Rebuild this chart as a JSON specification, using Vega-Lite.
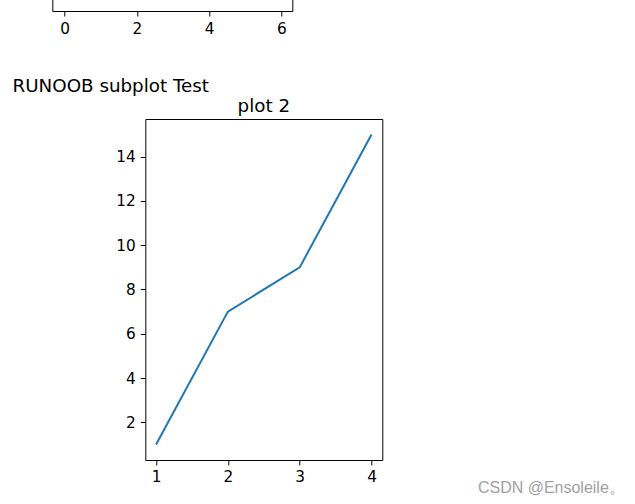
{
  "$schema": "https://vega.github.io/schema/vega-lite/v6.json",
  "padding": {"left": 11.3, "top": -50, "right": 5, "bottom": 5},
  "background": "#ffffff",
  "spacing": 0,
  "config": {
    "font": "DejaVu Sans",
    "view": {"stroke": "#000000", "strokeWidth": 1},
    "axis": {
      "domain": false,
      "grid": false,
      "tickColor": "#000000",
      "tickSize": 5,
      "tickWidth": 1,
      "labelFont": "DejaVu Sans",
      "labelFontSize": 15.3,
      "labelColor": "#000000",
      "labelPadding": 5,
      "titleFont": "DejaVu Sans",
      "titleFontWeight": "normal",
      "titleColor": "#000000"
    }
  },
  "vconcat": [
    {
      "width": 240,
      "height": 60,
      "data": {"values": [{"x": 0}, {"x": 6}]},
      "mark": {"type": "point", "opacity": 0},
      "encoding": {
        "x": {
          "field": "x",
          "type": "quantitative",
          "scale": {"domain": [-0.34, 6.3], "nice": false, "zero": false},
          "axis": {
            "values": [0, 2, 4, 6],
            "format": "d",
            "title": "RUNOOB subplot Test",
            "titleFontSize": 18.3,
            "titleX": -40.3,
            "titleY": 80.7,
            "titleAlign": "left",
            "titleBaseline": "alphabetic"
          }
        }
      }
    },
    {
      "spacing": 0,
      "hconcat": [
        {
          "width": 1,
          "height": 1,
          "view": {"stroke": null},
          "data": {"values": []},
          "mark": {"type": "point", "opacity": 0}
        },
        {
          "width": 237,
          "height": 341,
          "title": {
            "text": "plot 2",
            "frame": "group",
            "anchor": "middle",
            "baseline": "alphabetic",
            "offset": -10.8,
            "fontSize": 18.3,
            "fontWeight": "normal",
            "font": "DejaVu Sans",
            "color": "#000000"
          },
          "data": {
            "values": [
              {"x": 1, "y": 1},
              {"x": 2, "y": 7},
              {"x": 3, "y": 9},
              {"x": 4, "y": 15}
            ]
          },
          "mark": {"type": "line", "color": "#1f77b4", "strokeWidth": 2},
          "encoding": {
            "x": {
              "field": "x",
              "type": "quantitative",
              "scale": {"domain": [0.85, 4.15], "nice": false, "zero": false},
              "axis": {
                "values": [1, 2, 3, 4],
                "format": "d",
                "title": "CSDN @Ensoleile。",
                "titleFont": "Liberation Sans",
                "titleFontSize": 16,
                "titleColor": "#a0a0a0",
                "titleAlign": "right",
                "titleBaseline": "alphabetic",
                "titleX": 479,
                "titleY": 33
              }
            },
            "y": {
              "field": "y",
              "type": "quantitative",
              "scale": {"domain": [0.3, 15.7], "nice": false, "zero": false},
              "axis": {
                "values": [2, 4, 6, 8, 10, 12, 14],
                "format": "d",
                "title": null,
                "minExtent": 91.5
              }
            }
          }
        }
      ]
    }
  ]
}
